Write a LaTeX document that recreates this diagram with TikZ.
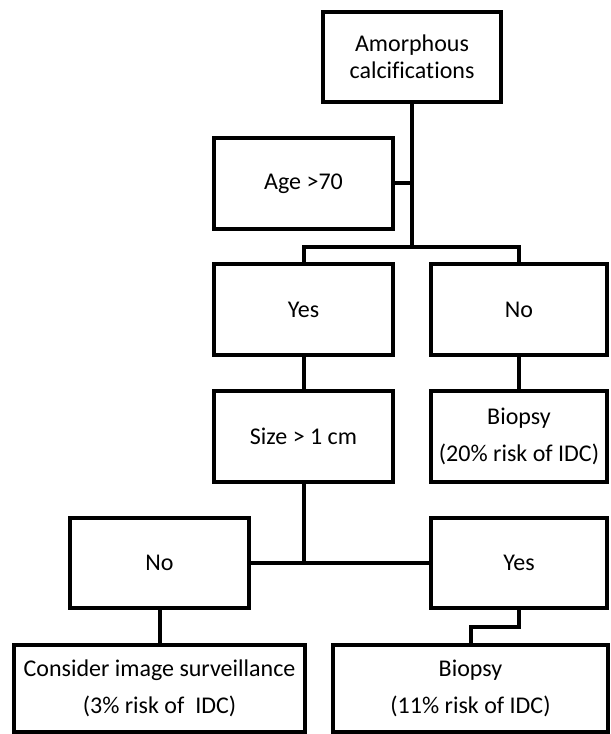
\documentclass[tikz,border=0pt]{standalone}
\usepackage{fontspec}
\setmainfont{Carlito}[Ligatures=CommonOff]

\begin{document}
\begin{tikzpicture}[x=0.75pt, y=-0.75pt]
    \useasboundingbox (0,0) rectangle (610,734);
    \tikzset{box/.style = {draw, line width=3pt, inner sep=0pt, align=center,
                           minimum width=134pt, minimum height=68pt,
                           font=\fontsize{18}{27.75}\selectfont},
             widebox/.style = {box, minimum height=65pt},
             wire/.style = {line width=3pt}}

    % Boxes
    \node[box, font=\fontsize{18}{20.25}\selectfont] (calc) at (412,57) {Amorphous\\calcifications};
    \node[box] (age)     at (303.5,183.5) {Age >70};
    \node[box] (yes)     at (303.5,309.5) {Yes};
    \node[box, minimum width=132pt] (no)      at (519,309.5) {No};
    \node[box] (size)    at (303.5,436.5) {Size > 1 cm};
    \node[box, minimum width=132pt] (biopsyA) at (519,436.5) {Biopsy\\(20\% risk of IDC)};
    \node[box] (noB)     at (159.5,563) {No};
    \node[box, minimum width=132pt] (yesB)    at (519,563) {Yes};
    \node[widebox, minimum width=218pt] (watch)   at (159.5,688.5) {Consider image surveillance\\(3\% risk of~ IDC)};
    \node[widebox, minimum width=206pt] (biopsyB) at (470.5,688.5) {Biopsy\\(11\% risk of IDC)};

    % Connectors
    \coordinate (fork) at (412,247);
    \draw[wire] (calc.south) -- (fork);
    \draw[wire] (age.east) -- (age.east -| calc.south);
    \draw[wire] (yes.north) |- (fork) -| (no.north);
    \draw[wire] (yes) -- (size);
    \draw[wire] (no) -- (biopsyA);
    \draw[wire] (size.south) -- (size.south |- noB.east);
    \draw[wire] (noB) -- (yesB);
    \draw[wire] (noB) -- (watch);
    \draw[wire] (yesB.south) -- ++(0,17) -| (biopsyB.north);

\end{tikzpicture}
\end{document}
